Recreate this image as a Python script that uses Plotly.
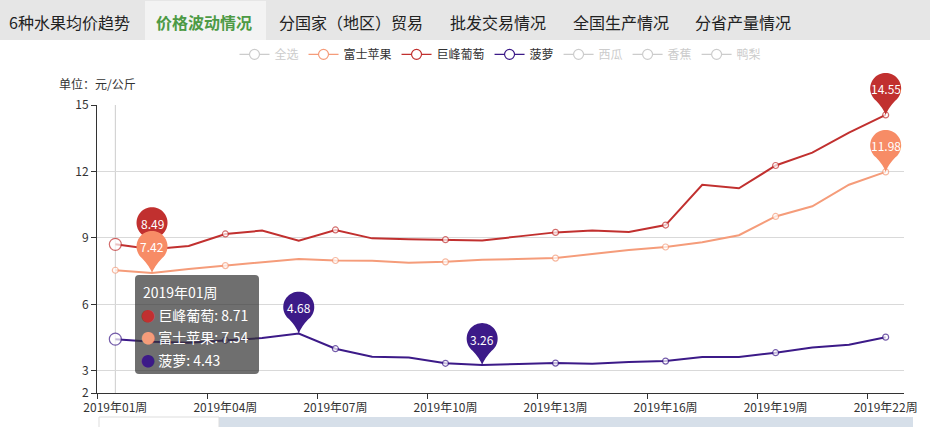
import math
import plotly.graph_objects as go

# ---------------- data ----------------
weeks = ["2019年01周", "2019年02周", "2019年03周", "2019年04周", "2019年05周", "2019年06周",
         "2019年07周", "2019年08周", "2019年09周", "2019年10周", "2019年11周", "2019年12周",
         "2019年13周", "2019年14周", "2019年15周", "2019年16周", "2019年17周", "2019年18周",
         "2019年19周", "2019年20周", "2019年21周", "2019年22周"]
apple = [7.54, 7.42, 7.60, 7.75, 7.88, 8.05, 7.98, 7.97, 7.88, 7.92, 8.01, 8.05,
         8.09, 8.27, 8.45, 8.59, 8.80, 9.12, 9.97, 10.43, 11.40, 11.98]
grape = [8.71, 8.49, 8.64, 9.18, 9.33, 8.87, 9.36, 8.98, 8.94, 8.92, 8.88, 9.07,
         9.25, 9.33, 9.27, 9.58, 11.40, 11.24, 12.27, 12.85, 13.75, 14.55]
pineapple = [4.43, 4.31, 4.27, 4.38, 4.48, 4.68, 4.00, 3.64, 3.60, 3.34, 3.26, 3.31,
             3.35, 3.32, 3.40, 3.44, 3.63, 3.63, 3.82, 4.05, 4.18, 4.52]
legend_names = ["全选", "富士苹果", "巨峰葡萄", "菠萝", "西瓜", "香蕉", "鸭梨"]
tabs = ["6种水果均价趋势", "价格波动情况", "分国家（地区）贸易", "批发交易情况", "全国生产情况", "分省产量情况"]
y_ticks = [2, 3, 6, 9, 12, 15]
hover_index = 0

C_APPLE_LINE = "#f59c7a"
C_APPLE_PIN = "#f78c66"
C_GRAPE = "#c1302f"
C_PINE = "#3c1a88"
C_OFF = "#cccccc"
FONT = "Noto Sans CJK SC, Microsoft YaHei, sans-serif"

# ---------------- geometry ----------------
W, H = 930, 427
ML, MR, MT, MB = 97, 20, 105, 32
PW, PH = W - ML - MR, H - MT - MB

def px(x):
    return (x - ML) / PW

def py(y):
    return (H - MB - y) / PH

def rel(x, y):
    return x - ML, (H - MB) - y

n = len(weeks)
xs = list(range(n))
step = 3
x_range = [-0.5, n - 0.5]
y_range = [y_ticks[0], y_ticks[-1]]

def data_to_paper(i, v):
    return ((i - x_range[0]) / (x_range[1] - x_range[0]),
            (v - y_range[0]) / (y_range[1] - y_range[0]))

fig = go.Figure()

def marker_sizes(big_first):
    sizes, widths = [], []
    for i in xs:
        if i == hover_index and big_first:
            sizes.append(12); widths.append(1.2)
        elif i % step == 0 or i == n - 1:
            sizes.append(6); widths.append(1.2)
        else:
            sizes.append(0); widths.append(0)
    return sizes, widths

series = [("富士苹果", apple, C_APPLE_LINE, False),
          ("巨峰葡萄", grape, C_GRAPE, True),
          ("菠萝", pineapple, C_PINE, True)]

for name, vals, col, big in series:
    s, w = marker_sizes(big)
    fig.add_trace(go.Scatter(
        x=xs, y=vals, mode="lines+markers", name=name, showlegend=False,
        line=dict(color=col, width=2),
        marker=dict(size=s, color="white", line=dict(color=col, width=w)),
        hoverinfo="skip"))

# legend entries
leg_colors = {"富士苹果": C_APPLE_LINE, "巨峰葡萄": C_GRAPE, "菠萝": C_PINE}
for nm in legend_names:
    col = leg_colors.get(nm, C_OFF)
    label = nm if nm in leg_colors else f"<span style='color:{C_OFF}'>{nm}</span>"
    fig.add_trace(go.Scatter(
        x=[None], y=[None], mode="lines+markers", name=label,
        line=dict(color=col, width=1.2),
        marker=dict(size=10, color="white", line=dict(color=col, width=1.2))))

shapes = []
annos = []

def note(x, y, text, size=12, color="#333333", xanchor="center"):
    annos.append(dict(x=x, y=y, xref="paper", yref="paper", xanchor=xanchor, yanchor="middle",
                      showarrow=False, text=text, font=dict(size=size, color=color, family=FONT)))

# hover axis pointer line
shapes.append(dict(type="line", xref="x", yref="paper", x0=hover_index, x1=hover_index,
                   y0=0, y1=1, line=dict(color="#cccccc", width=1), layer="below"))

# pin markers (max / min)
def pin_path(R=15.5, cy=26.5):
    pts = []
    a0, a1, k = -52, 232, 48
    for i in range(k + 1):
        a = math.radians(a0 + (a1 - a0) * i / k)
        pts.append((R * math.cos(a), cy + R * math.sin(a)))
    d = "M %.2f %.2f " % pts[0]
    d += " ".join("L %.2f %.2f" % p for p in pts[1:])
    d += " Q %.2f %.2f 0 0" % (-2.5, 7)
    d += " Q %.2f %.2f %.2f %.2f Z" % (2.5, 7, pts[0][0], pts[0][1])
    return d

PIN = pin_path()

def add_pins(vals, col):
    for idx in (vals.index(max(vals)), vals.index(min(vals))):
        fx, fy = data_to_paper(idx, vals[idx])
        shapes.append(dict(type="path", xref="paper", yref="paper", xsizemode="pixel", ysizemode="pixel",
                           xanchor=fx, yanchor=fy, path=PIN, fillcolor=col,
                           line=dict(width=0), layer="above"))
        annos.append(dict(x=fx, y=fy, xref="paper", yref="paper", xanchor="center", yanchor="middle",
                          yshift=26, showarrow=False,
                          text="%.2f" % vals[idx], font=dict(color="white", size=12, family=FONT)))

add_pins(pineapple, C_PINE)
add_pins(grape, C_GRAPE)
add_pins(apple, C_APPLE_PIN)

# top tab bar
def rect_path(x0, y0, x1, y1, r=0):
    ax0, ay0 = rel(x0, y0)
    ax1, ay1 = rel(x1, y1)
    if r == 0:
        return "M %g %g L %g %g L %g %g L %g %g Z" % (ax0, ay0, ax1, ay0, ax1, ay1, ax0, ay1)
    return ("M %g %g L %g %g Q %g %g %g %g L %g %g Q %g %g %g %g L %g %g Q %g %g %g %g L %g %g Q %g %g %g %g Z" %
            (ax0 + r, ay0, ax1 - r, ay0, ax1, ay0, ax1, ay0 - r, ax1, ay1 + r, ax1, ay1, ax1 - r, ay1,
             ax0 + r, ay1, ax0, ay1, ax0, ay1 + r, ax0, ay0 - r, ax0, ay0, ax0 + r, ay0))

def px_shape(path, fill, line_col=None, layer="above"):
    return dict(type="path", xref="paper", yref="paper", xsizemode="pixel", ysizemode="pixel",
                xanchor=0, yanchor=0, path=path, fillcolor=fill,
                line=dict(width=1 if line_col else 0, color=line_col or fill), layer=layer)

shapes.append(px_shape(rect_path(0, 0, 930, 42), "#e6e6e6", layer="below"))
shapes.append(px_shape(rect_path(145, 3, 266, 42), "#f3f3f3", layer="below"))
tab_centers = [69, 205, 353, 501, 625, 748]
for t, cx in zip(tabs, tab_centers):
    sel = t == "价格波动情况"
    note(px(cx), py(21), f"<b>{t}</b>" if sel else t, size=16,
         color="#4d9a45" if sel else "#222222")

# unit label
note(px(57), py(83), "单位：元/公斤", size=12, color="#333333", xanchor="left")

# data zoom slider (partially visible)
shapes.append(px_shape(rect_path(219, 419, 913, 440), "#d6dfe9", layer="below"))
shapes.append(px_shape(rect_path(99, 419, 219, 440), "#ffffff", "#dddddd", layer="below"))

# tooltip
shapes.append(px_shape(rect_path(135, 277, 259, 376, r=4), "rgba(50,50,50,0.7)"))
note(px(141), py(293), weeks[hover_index], size=14, color="white", xanchor="left")
tip_rows = [("巨峰葡萄", grape, C_GRAPE), ("富士苹果", apple, C_APPLE_LINE), ("菠萝", pineapple, C_PINE)]
for k, (nm, vals, col) in enumerate(tip_rows):
    note(px(139), py(316 + k * 23),
         f"<span style='color:{col}'>●</span> {nm}: {vals[hover_index]:.2f}",
         size=14, color="white", xanchor="left")

fig.update_layout(
    width=W, height=H, autosize=False,
    margin=dict(l=ML, r=MR, t=MT, b=MB, pad=0),
    paper_bgcolor="white", plot_bgcolor="white",
    font=dict(family=FONT, size=12, color="#333333"),
    showlegend=True,
    legend=dict(orientation="h", x=0.5, xanchor="center", y=py(54), yanchor="middle",
                font=dict(size=12, color="#333333", family=FONT), itemwidth=30,
                bgcolor="rgba(0,0,0,0)", tracegroupgap=0),
    shapes=shapes, annotations=annos,
    xaxis=dict(range=x_range, tickmode="array",
               tickvals=[i for i in xs if i % step == 0],
               ticktext=[weeks[i] for i in xs if i % step == 0],
               ticks="", showgrid=False, zeroline=False,
               showline=True, linecolor="#333333", linewidth=1,
               tickfont=dict(size=12, color="#333333"), ticklabelstandoff=4,
               minor=dict(tickmode="array", tickvals=[i - 0.5 for i in xs if i % step == 0],
                          ticks="outside", ticklen=5, tickcolor="#333333", showgrid=False),
               fixedrange=True),
    yaxis=dict(range=y_range, tickmode="array", tickvals=y_ticks,
               ticks="outside", ticklen=5, tickcolor="#333333",
               showgrid=True, gridcolor="#d9d9d9", zeroline=False,
               showline=True, linecolor="#333333", linewidth=1,
               tickfont=dict(size=12, color="#333333"), fixedrange=True),
    hovermode=False,
)

fig.write_html("out.html")
